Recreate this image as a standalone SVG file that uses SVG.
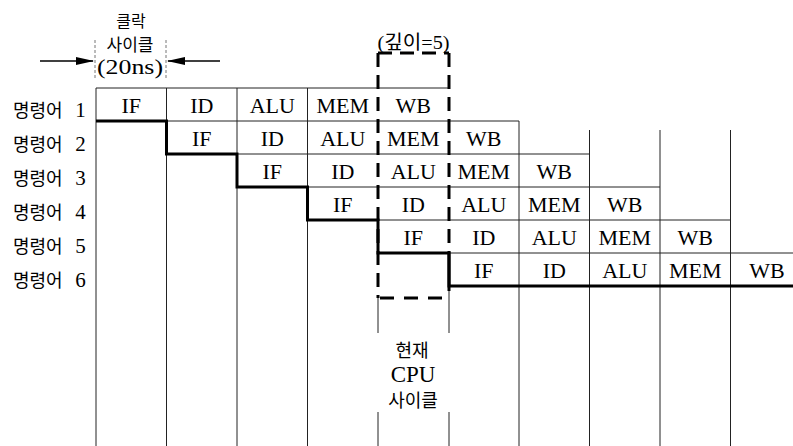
<svg xmlns="http://www.w3.org/2000/svg" width="793" height="446" viewBox="0 0 793 446">
<style>
.thin{stroke:#222;stroke-width:1;fill:none}
.thick{stroke:#000;stroke-width:3;fill:none}
.dash{stroke:#000;stroke-width:3;fill:none;stroke-dasharray:14 8}
.dot{stroke:#777;stroke-width:1;fill:none;stroke-dasharray:3 2}
.cell{font-family:"Liberation Serif","Noto Sans CJK KR",serif;font-size:22px;text-anchor:middle;fill:#000}
.lab{font-family:"Liberation Serif","Noto Sans CJK KR",serif;font-size:18px;fill:#000}
.ctr{text-anchor:middle}
</style>
<defs>
<marker id="ah" markerUnits="userSpaceOnUse" markerWidth="18" markerHeight="8" refX="17" refY="4" orient="auto">
<path d="M0,0 L18,4 L0,8 Z" fill="#000"/>
</marker>
</defs>
<rect width="793" height="446" fill="#fff"/>

<g id="grid">
<!-- column lines -->
<line class="thin" x1="96" y1="88" x2="96" y2="446"/>
<line class="thin" x1="166.5" y1="88" x2="166.5" y2="446"/>
<line class="thin" x1="237" y1="88" x2="237" y2="446"/>
<line class="thin" x1="307.5" y1="88" x2="307.5" y2="446"/>
<line class="thin" x1="378" y1="298" x2="378" y2="333"/>
<line class="thin" x1="378" y1="412" x2="378" y2="446"/>
<line class="thin" x1="449" y1="286" x2="449" y2="333"/>
<line class="thin" x1="449" y1="412" x2="449" y2="446"/>
<line class="thin" x1="519" y1="121" x2="519" y2="446"/>
<line class="thin" x1="589.5" y1="130" x2="589.5" y2="446"/>
<line class="thin" x1="660" y1="130" x2="660" y2="446"/>
<line class="thin" x1="730.5" y1="130" x2="730.5" y2="446"/>
<!-- row lines -->
<line class="thin" x1="96" y1="88" x2="449" y2="88"/>
<line class="thin" x1="96" y1="121" x2="519" y2="121"/>
<line class="thin" x1="166.5" y1="154" x2="589.5" y2="154"/>
<line class="thin" x1="237" y1="187" x2="660" y2="187"/>
<line class="thin" x1="307.5" y1="220" x2="730.5" y2="220"/>
<line class="thin" x1="378" y1="253" x2="793" y2="253"/>
<!-- staircase -->
<polyline class="thick" points="96,121 166.5,121 166.5,154 237,154 237,187 307.5,187 307.5,220 378,220 378,253 449,253 449,286 793,286"/>
<line class="thick" x1="449" y1="253" x2="449" y2="291"/>
<!-- dashed depth box -->
<line class="dash" x1="378" y1="53" x2="449" y2="53"/>
<line class="dash" x1="378" y1="53" x2="378" y2="298"/>
<line class="dash" x1="449" y1="53" x2="449" y2="253"/>
<line class="dash" x1="380" y1="298" x2="449" y2="298" style="stroke-dasharray:14 10"/>
<!-- clock cycle guides -->
<line class="dot" x1="95" y1="40" x2="95" y2="78"/>
<line class="dot" x1="166" y1="40" x2="166" y2="78"/>
</g>

<g id="connectors">
<line x1="40" y1="61" x2="93" y2="61" stroke="#000" stroke-width="1.5" marker-end="url(#ah)"/>
<line x1="220" y1="61" x2="168" y2="61" stroke="#000" stroke-width="1.5" marker-end="url(#ah)"/>
</g>

<g id="clock-label">
<text class="lab ctr" x="131" y="27" style="font-size:16px">클락</text>
<text class="lab ctr" x="130" y="51" style="font-size:17px">사이클</text>
<text class="lab ctr" x="130" y="74" style="font-size:21px" textLength="66" lengthAdjust="spacingAndGlyphs">(20ns)</text>
</g>

<g id="depth-label">
<text class="lab ctr" x="413.5" y="49" style="font-size:19px" textLength="72" lengthAdjust="spacingAndGlyphs">(깊이=5)</text>
</g>

<g id="current-cycle">
<text class="lab ctr" x="412" y="357">현재</text>
<text class="lab ctr" x="413" y="382" style="font-size:23px">CPU</text>
<text class="lab ctr" x="413" y="407">사이클</text>
</g>

<g id="row-labels">
<text class="lab" x="13" y="117">명령어 <tspan dx="8" style="font-size:21px">1</tspan></text>
<text class="lab" x="13" y="151">명령어 <tspan dx="8" style="font-size:21px">2</tspan></text>
<text class="lab" x="13" y="185">명령어 <tspan dx="8" style="font-size:21px">3</tspan></text>
<text class="lab" x="13" y="219">명령어 <tspan dx="8" style="font-size:21px">4</tspan></text>
<text class="lab" x="13" y="253">명령어 <tspan dx="8" style="font-size:21px">5</tspan></text>
<text class="lab" x="13" y="287">명령어 <tspan dx="8" style="font-size:21px">6</tspan></text>
</g>

<g id="instr1">
<text class="cell" x="131.25" y="112.5">IF</text>
<text class="cell" x="201.75" y="112.5">ID</text>
<text class="cell" x="272.25" y="112.5">ALU</text>
<text class="cell" x="342.75" y="112.5">MEM</text>
<text class="cell" x="413.25" y="112.5">WB</text>
</g>
<g id="instr2">
<text class="cell" x="201.75" y="145.5">IF</text>
<text class="cell" x="272.25" y="145.5">ID</text>
<text class="cell" x="342.75" y="145.5">ALU</text>
<text class="cell" x="413.25" y="145.5">MEM</text>
<text class="cell" x="483.75" y="145.5">WB</text>
</g>
<g id="instr3">
<text class="cell" x="272.25" y="178.5">IF</text>
<text class="cell" x="342.75" y="178.5">ID</text>
<text class="cell" x="413.25" y="178.5">ALU</text>
<text class="cell" x="483.75" y="178.5">MEM</text>
<text class="cell" x="554.25" y="178.5">WB</text>
</g>
<g id="instr4">
<text class="cell" x="342.75" y="211.5">IF</text>
<text class="cell" x="413.25" y="211.5">ID</text>
<text class="cell" x="483.75" y="211.5">ALU</text>
<text class="cell" x="554.25" y="211.5">MEM</text>
<text class="cell" x="624.75" y="211.5">WB</text>
</g>
<g id="instr5">
<text class="cell" x="413.25" y="244.5">IF</text>
<text class="cell" x="483.75" y="244.5">ID</text>
<text class="cell" x="554.25" y="244.5">ALU</text>
<text class="cell" x="624.75" y="244.5">MEM</text>
<text class="cell" x="695.25" y="244.5">WB</text>
</g>
<g id="instr6">
<text class="cell" x="483.75" y="277.5">IF</text>
<text class="cell" x="554.25" y="277.5">ID</text>
<text class="cell" x="624.75" y="277.5">ALU</text>
<text class="cell" x="695.25" y="277.5">MEM</text>
<text class="cell" x="767" y="277.5">WB</text>
</g>
</svg>
